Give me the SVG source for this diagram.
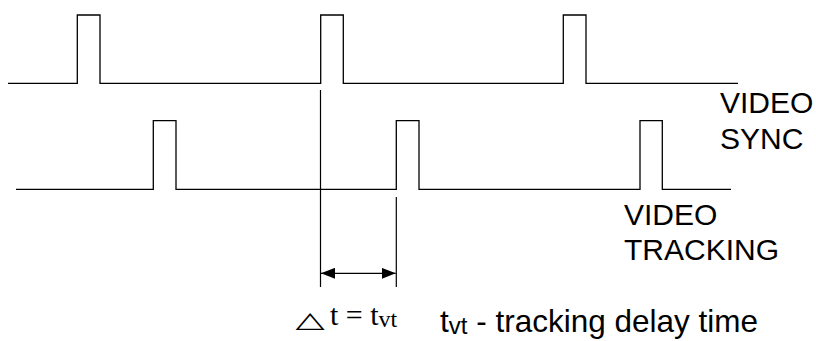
<svg xmlns="http://www.w3.org/2000/svg" width="816" height="341" viewBox="0 0 816 341">
<style>
.sig{fill:none;stroke:#000;stroke-width:1.3}
.ln{stroke:#000;stroke-width:1.2;fill:none}
.lbl{font-family:"Liberation Sans",Arial,sans-serif;font-size:30px;fill:#000}
.ser{font-family:"Liberation Serif","Times New Roman",serif;font-size:30px;fill:#000}
</style>
<defs>
<marker id="ah" viewBox="0 0 14 11" refX="14" refY="5.5" markerWidth="14" markerHeight="11" markerUnits="userSpaceOnUse" orient="auto-start-reverse">
<path d="M0,0 L14,5.5 L0,11 Z" fill="#000"/>
</marker>
</defs>
<rect width="816" height="341" fill="#fff"/>
<g id="video-sync">
<path class="sig" d="M8,83.3 H77.3 V15 H100 V83.3 H320.7 V15 H343.3 V83.3 H563.3 V15 H586 V83.3 H738"/>
<text class="lbl" x="720" y="113">VIDEO</text>
<text class="lbl" x="720" y="149">SYNC</text>
</g>
<g id="video-tracking">
<path class="sig" d="M16,189.3 H153.3 V120.7 H176 V189.3 H396.3 V120.7 H419 V189.3 H640 V120.7 H662.3 V189.3 H731"/>
<text class="lbl" x="624" y="224.5">VIDEO</text>
<text class="lbl" x="624" y="260">TRACKING</text>
</g>
<g id="connectors">
<line class="ln" x1="320.5" y1="90" x2="320.5" y2="287"/>
<line class="ln" x1="396.3" y1="197" x2="396.3" y2="287"/>
<line class="ln" x1="321" y1="273.3" x2="395.7" y2="273.3" stroke-width="2" marker-start="url(#ah)" marker-end="url(#ah)"/>
</g>
<g id="delta-label">
<text font-family="'DejaVu Sans',sans-serif" font-size="38" transform="translate(295.5,326.5) scale(1,0.58)">△</text>
<text class="ser" x="330" y="325">t = t<tspan font-size="24" dy="2">vt</tspan></text>
</g>
<g id="legend">
<text class="lbl" x="440" y="331.5" style="font-size:31.5px">t<tspan style="font-size:24px" dy="2">vt</tspan><tspan dy="-2"> - tracking delay time</tspan></text>
</g>
</svg>
